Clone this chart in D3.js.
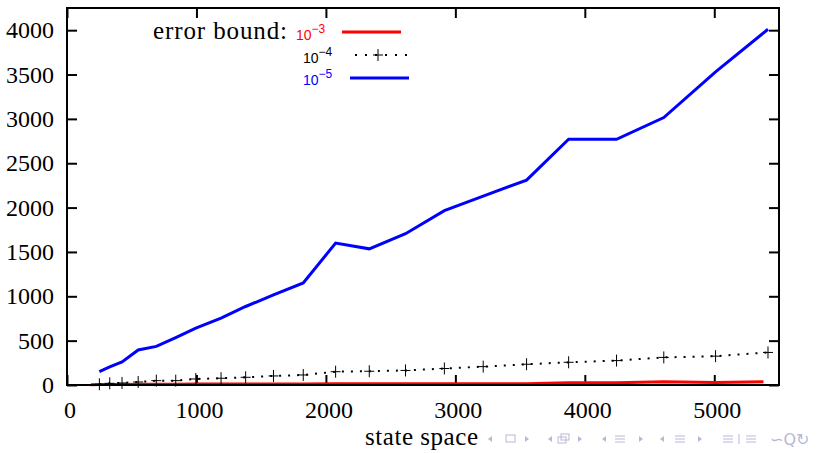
<!DOCTYPE html>
<html>
<head>
<meta charset="utf-8">
<script src="https://cdn.jsdelivr.net/npm/d3@7"></script>
<style>
    body { margin: 0; background: #fff; }
</style>
</head>
<body>
<div id="chart"></div>
<script>
// state space sizes (x) shared by the 1e-4 and 1e-5 series
var stateSpace = [250, 330, 425, 550, 690, 840, 995, 1190, 1380, 1595, 1825, 2075, 2335, 2615, 2915, 3215, 3550, 3875, 4245, 4610, 5010, 5415];
var bound4 = [8, 19, 23, 34, 49, 49, 68, 76, 87, 102, 113, 150, 155, 164, 186, 207, 234, 256, 275, 311, 325, 367];
var bound5 = [150, 205, 260, 395, 435, 535, 640, 755, 885, 1015, 1150, 1600, 1535, 1705, 1965, 2130, 2310, 2770, 2770, 3015, 3530, 4010];
// the 1e-3 series starts a bit earlier
var stateSpace3 = [185, 250, 330, 425, 550, 690, 840, 995, 1190, 1380, 1595, 1825, 2075, 2335, 2615, 2915, 3215, 3550, 3875, 4245, 4610, 5010, 5380];
var bound3 = [3, 5, 6, 7, 8, 8, 9, 10, 11, 11, 12, 12, 13, 13, 14, 15, 15, 15, 26, 26, 36, 28, 36];

var xTicks = [0, 1000, 2000, 3000, 4000, 5000];
var yTicks = [0, 500, 1000, 1500, 2000, 2500, 3000, 3500, 4000];

var width = 827, height = 453;
var margin = {top: 8, right: 48, bottom: 68, left: 67};
var serif = "'Liberation Serif', 'Times New Roman', serif";
var sans = "'Liberation Sans', Arial, sans-serif";

var svg = d3.select("#chart")
    .append("svg")
    .attr("width", width)
    .attr("height", height);

var x = d3.scaleLinear().domain([0, 5500]).range([margin.left, width - margin.right]);
var y = d3.scaleLinear().domain([0, 4250]).range([height - margin.bottom, margin.top]);

// inward ticks on all four sides (gnuplot style)
var tickLen = 10;
svg.append("g")
    .attr("transform", "translate(0," + y(0) + ")")
    .call(d3.axisBottom(x).tickValues(xTicks).tickSizeInner(-tickLen).tickSizeOuter(0).tickFormat(""))
    .call(g => g.select(".domain").remove());
svg.append("g")
    .attr("transform", "translate(0," + y(4250) + ")")
    .call(d3.axisTop(x).tickValues(xTicks).tickSizeInner(-tickLen).tickSizeOuter(0).tickFormat(""))
    .call(g => g.select(".domain").remove());
svg.append("g")
    .attr("transform", "translate(" + x(0) + ",0)")
    .call(d3.axisLeft(y).tickValues(yTicks).tickSizeInner(-tickLen).tickSizeOuter(0).tickFormat(""))
    .call(g => g.select(".domain").remove());
svg.append("g")
    .attr("transform", "translate(" + x(5500) + ",0)")
    .call(d3.axisRight(y).tickValues(yTicks).tickSizeInner(-tickLen).tickSizeOuter(0).tickFormat(""))
    .call(g => g.select(".domain").remove());
svg.selectAll(".tick line").attr("stroke", "#000").attr("stroke-width", 2);

// tick labels
svg.selectAll(".xlab")
    .data(xTicks)
    .enter()
    .append("text")
    .attr("x", d => x(d) + 3)
    .attr("y", 418)
    .attr("text-anchor", "middle")
    .style("font-family", serif)
    .style("font-size", "24px")
    .text(d => d);

svg.selectAll(".ylab")
    .data(yTicks)
    .enter()
    .append("text")
    .attr("x", 54)
    .attr("y", d => y(d) + 8)
    .attr("text-anchor", "end")
    .style("font-family", serif)
    .style("font-size", "24px")
    .text(d => d);

// series
var line = d3.line()
    .x(d => x(d[0]))
    .y(d => y(d[1]));

svg.append("path")
    .attr("d", line(d3.zip(stateSpace3, bound3)))
    .attr("fill", "none")
    .attr("stroke", "#ff0000")
    .attr("stroke-width", 3);

svg.append("path")
    .attr("d", line(d3.zip(stateSpace, bound4)))
    .attr("fill", "none")
    .attr("stroke", "#000")
    .attr("stroke-width", 2)
    .attr("stroke-dasharray", "2,7");

svg.selectAll(".plus")
    .data(d3.zip(stateSpace, bound4))
    .enter()
    .append("path")
    .attr("d", d => "M" + (x(d[0]) - 5) + "," + y(d[1]) + "h10M" + x(d[0]) + "," + (y(d[1]) - 6) + "v12")
    .attr("stroke", "#000")
    .attr("stroke-width", 1);

svg.append("path")
    .attr("d", line(d3.zip(stateSpace, bound5)))
    .attr("fill", "none")
    .attr("stroke", "#0000ff")
    .attr("stroke-width", 3);

// frame
svg.append("rect")
    .attr("x", x(0))
    .attr("y", y(4250))
    .attr("width", x(5500) - x(0))
    .attr("height", y(0) - y(4250))
    .attr("fill", "none")
    .attr("stroke", "#000")
    .attr("stroke-width", 2);

// legend
svg.append("text")
    .attr("x", 153)
    .attr("y", 39)
    .attr("textLength", 134)
    .style("font-family", serif)
    .style("font-size", "25px")
    .text("error bound:");

var legendRows = [
    {exp: "3", color: "#ff0000", tx: 296, ty: 40, lx: 342, ly: 32},
    {exp: "4", color: "#000", tx: 303, ty: 63, lx: 350, ly: 55},
    {exp: "5", color: "#0000ff", tx: 303, ty: 85, lx: 350, ly: 78}
];

legendRows.forEach(function (r, i) {
    var t = svg.append("text")
        .attr("x", r.tx)
        .attr("y", r.ty)
        .style("font-family", sans)
        .style("font-size", "14px")
        .attr("fill", r.color);
    t.append("tspan").text("10");
    t.append("tspan").attr("dy", -7).style("font-size", "12px").text("\u2212" + r.exp);

    var seg = svg.append("line")
        .attr("x1", r.lx)
        .attr("x2", r.lx + 59)
        .attr("y1", r.ly)
        .attr("y2", r.ly)
        .attr("stroke", r.color);
    if (i === 1) {
        seg.attr("stroke-width", 2).attr("stroke-dasharray", "2,8").attr("stroke-dashoffset", -5);
        svg.append("path")
            .attr("d", "M" + (r.lx + 23) + "," + r.ly + "h10M" + (r.lx + 28) + "," + (r.ly - 6) + "v12")
            .attr("stroke", "#000")
            .attr("stroke-width", 1);
    } else {
        seg.attr("stroke-width", 3);
    }
});

// axis title
svg.append("text")
    .attr("x", 365)
    .attr("y", 445)
    .attr("textLength", 113)
    .style("font-family", serif)
    .style("font-size", "25px")
    .text("state space");

// beamer navigation symbols
var nav = svg.append("g")
    .attr("fill", "none")
    .attr("stroke", "#b8b8d4")
    .attr("stroke-width", 1);
var navY = 439;
function tri(cx, dir) {
    nav.append("path")
        .attr("d", "M" + (cx + dir * 2) + "," + (navY - 3) + "L" + (cx - dir * 2) + "," + navY + "L" + (cx + dir * 2) + "," + (navY + 3) + "Z")
        .attr("fill", "#b8b8d4")
        .attr("stroke", "none");
}
function lines3(cx) {
    [-3, 0, 3].forEach(function (o) {
        nav.append("line").attr("x1", cx - 5).attr("x2", cx + 5).attr("y1", navY + o).attr("y2", navY + o);
    });
}
tri(490, 1); nav.append("rect").attr("x", 506).attr("y", navY - 4).attr("width", 9).attr("height", 7); tri(527, -1);
tri(550, 1);
nav.append("rect").attr("x", 558).attr("y", navY - 2).attr("width", 8).attr("height", 6);
nav.append("rect").attr("x", 561).attr("y", navY - 5).attr("width", 8).attr("height", 6);
tri(580, -1);
tri(604, 1); lines3(620); tri(641, -1);
tri(662, 1); lines3(680); tri(700, -1);
lines3(728); nav.append("line").attr("x1", 739).attr("x2", 739).attr("y1", navY - 5).attr("y2", navY + 5); lines3(751);
svg.append("text")
    .attr("x", 770)
    .attr("y", navY + 6)
    .attr("fill", "#b8b8d4")
    .style("font-family", "'DejaVu Sans', sans-serif")
    .style("font-size", "16px")
    .text("\u223D\u0051\u21BB");
</script>
</body>
</html>
